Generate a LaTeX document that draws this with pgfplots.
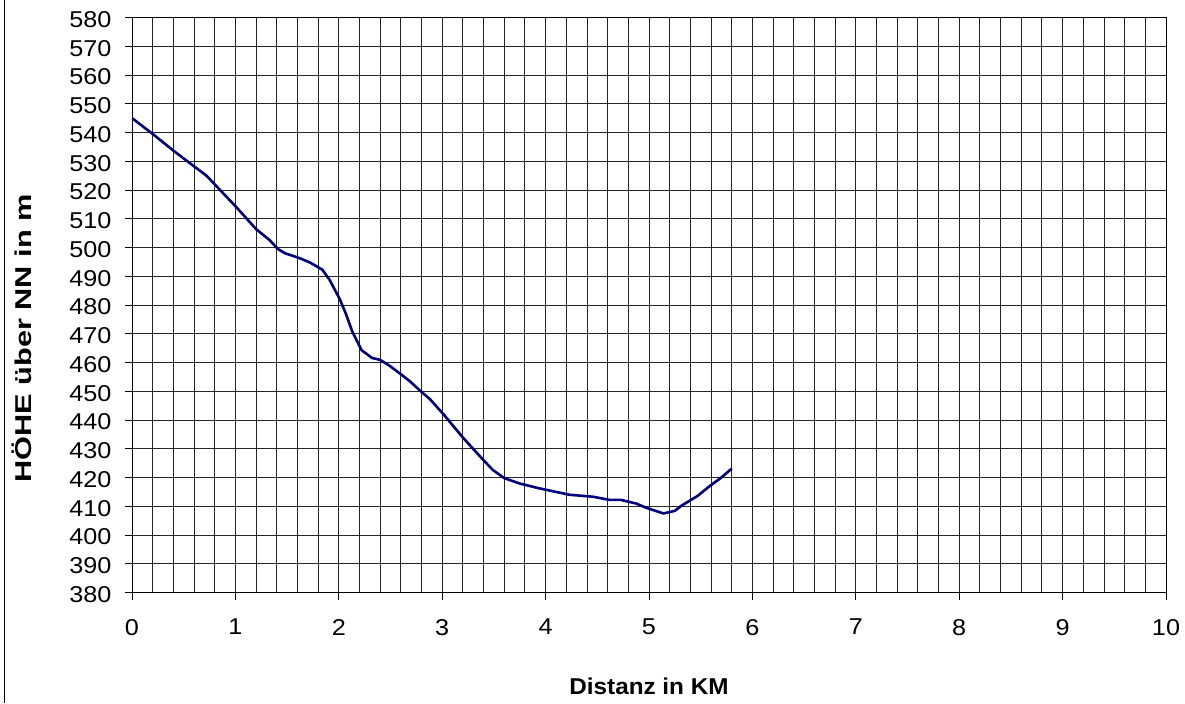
\documentclass[border=0pt]{standalone}
\usepackage{pgfplots}
\pgfplotsset{compat=1.18}
\usepackage{fontspec}
\setmainfont{Liberation Sans}
\definecolor{profil}{RGB}{0,0,128}

\begin{document}
\begin{tikzpicture}
\begin{axis}[
    scale only axis,
    width=1034bp, height=575bp,
    xmin=0, xmax=10, ymin=380, ymax=580,
    xtick distance=1, ytick distance=10,
    minor x tick num=4,
    xmajorgrids, xminorgrids, ymajorgrids,
    grid style={black!85, line width=0.9bp},
    minor grid style={black!85, line width=0.9bp},
    axis line style={black, line width=0.9bp},
    tick align=outside, xtick pos=bottom, ytick pos=left,
    major tick length=7bp, minor tick length=0pt,
    tick style={black, line width=0.9bp},
    /pgf/number format/assume math mode=true,
    tick label style={font=\fontsize{23}{26}\selectfont},
    xticklabel={\scalebox{1.1}[1]{\pgfmathprintnumber{\tick}}},
    yticklabel={\scalebox{1.1}[1]{\pgfmathprintnumber{\tick}}},
    yticklabel style={xshift=-10bp, yshift=-2bp},
    xticklabel style={yshift=-16bp},
    xlabel={\scalebox{1.06}[1]{Distanz in KM}},
    ylabel={\scalebox{1.34}[1]{HÖHE über NN in m}},
    label style={font=\fontsize{23}{26}\selectfont\bfseries},
    xlabel style={at={(axis description cs:0.5,-0.1635)}, anchor=center},
    ylabel style={at={(axis description cs:-0.1064,0.442)}, anchor=center},
]
\addplot[profil, line width=2.6bp, line join=round] coordinates {
(0,545) (0.2,539.5) (0.4,533.7) (0.59,528.5) (0.72,525) (0.82,521.2)
(1.01,514) (1.2,506.4) (1.33,502.6) (1.41,499.5) (1.48,498) (1.62,496.3)
(1.72,494.8) (1.84,492.3) (1.91,488.8) (2.01,482) (2.07,476.8) (2.13,470.8)
(2.22,464.3) (2.32,461.6) (2.40,460.9) (2.49,458.9) (2.59,456.2) (2.69,453.4)
(2.78,450.4) (2.88,447.3) (3.01,442.1) (3.20,433.9) (3.39,426.4) (3.49,422.6)
(3.60,419.8) (3.75,417.9) (3.93,416.3) (4.23,414) (4.46,413.3) (4.62,412.2)
(4.73,412.2) (4.88,410.9) (4.97,409.5) (5.14,407.5) (5.25,408.4) (5.31,410.1)
(5.47,413.6) (5.59,417.1) (5.70,420) (5.80,423.1)
};
\end{axis}
\path (current axis.south west) ++(-132bp,-110bp) coordinate (bl);
\path (current axis.north east) ++(19bp,17bp) coordinate (tr);
\path (bl) rectangle (tr);
\draw[black, line width=1bp] ([xshift=5bp]bl) -- ([xshift=5bp]bl |- tr);
\end{tikzpicture}
\end{document}
